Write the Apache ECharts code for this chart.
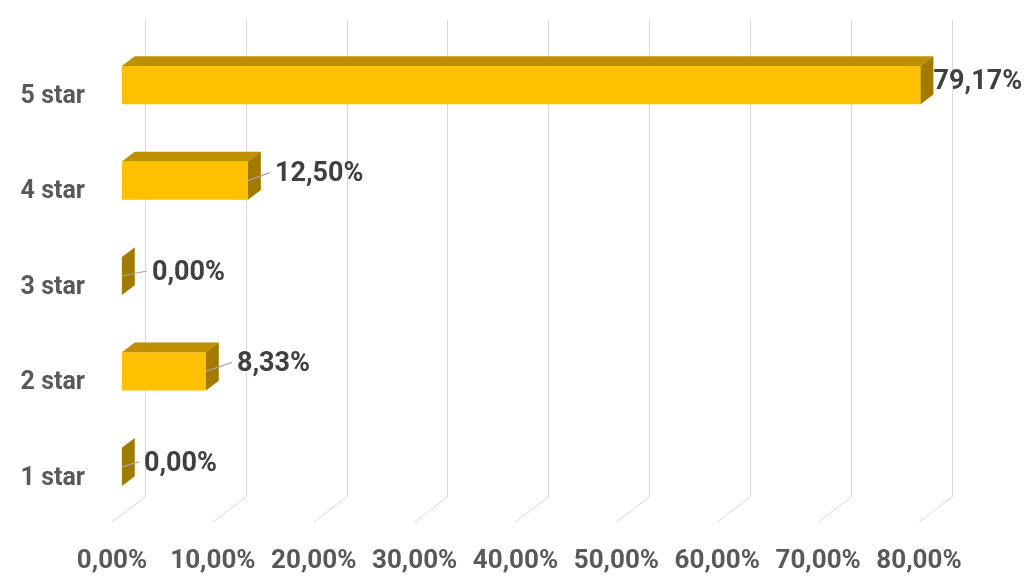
<!DOCTYPE html>
<html>
<head>
<meta charset="utf-8">
<script src="https://cdn.jsdelivr.net/npm/echarts@6/dist/echarts.min.js"></script>
<style>
html,body{margin:0;padding:0;background:#fff;}
#chart{width:1024px;height:588px;}
</style>
</head>
<body>
<div id="chart"></div>
<script>
// ---- data ----
var categories = ['1 star', '2 star', '3 star', '4 star', '5 star'];
var values = [0, 0.0833, 0, 0.125, 0.7917];
var xTicks = [0, 0.1, 0.2, 0.3, 0.4, 0.5, 0.6, 0.7, 0.8];
var xTickLabels = ['0,00%', '10,00%', '20,00%', '30,00%', '40,00%', '50,00%', '60,00%', '70,00%', '80,00%'];

// ---- layout / style (not data) ----
var DEPTH_X = 33, DEPTH_Y = 25;          // 3D depth of the plot box
var BAR_D0 = 0.30, BAR_D1 = 0.69;        // bar depth span (fraction)
var BAR_FRAC = 0.4;                      // bar thickness as fraction of band
var labelDx = [22, 31, 30, 27, 13];      // label nudges from bar front-right
var labelDy = [-3, -7, -3, -6, -3];
var FONT = 'Roboto, "Liberation Sans", sans-serif';

function pct(v) { return (v * 100).toFixed(2).replace('.', ',') + '%'; }

var chart = echarts.init(document.getElementById('chart'), null, {renderer: 'canvas'});

var option = {
  backgroundColor: '#ffffff',
  animation: false,
  grid: [
    {left: 145, right: 72, top: 20, bottom: 91},   // back wall
    {left: 112, right: 105, top: 45, bottom: 66}   // front plane
  ],
  xAxis: [
    {
      gridIndex: 0, type: 'value', min: 0, max: 0.8, interval: 0.1,
      axisLine: {show: false}, axisTick: {show: false}, axisLabel: {show: false},
      splitLine: {show: true, lineStyle: {color: '#D9D9D9', width: 1}}
    },
    {
      gridIndex: 1, type: 'value', min: 0, max: 0.8, interval: 0.1,
      axisLine: {show: false}, axisTick: {show: false},
      splitLine: {show: false},
      axisLabel: {
        show: true, margin: 26, color: '#595959', fontSize: 26, fontWeight: 'bold', fontFamily: FONT,
        formatter: function (v, i) { var k = xTicks.indexOf(Math.round(v * 10) / 10); return k >= 0 ? xTickLabels[k] : ''; }
      }
    }
  ],
  yAxis: [
    {
      gridIndex: 0, type: 'category', data: categories,
      axisLine: {show: false}, axisTick: {show: false}, axisLabel: {show: false}, splitLine: {show: false}
    },
    {
      gridIndex: 1, type: 'category', data: categories,
      axisLine: {show: false}, axisTick: {show: false}, splitLine: {show: false},
      axisLabel: {
        show: true, margin: 27,
        formatter: function (v) { return '{c|' + v + '}'; },
        rich: {c: {padding: [8, 0, 0, 0], color: '#595959', fontSize: 25, fontWeight: 'bold', fontFamily: FONT}}
      }
    }
  ],
  series: [
    {
      // floor lines
      type: 'custom', xAxisIndex: 0, yAxisIndex: 0, silent: true,
      data: xTicks.map(function (t) { return [t]; }),
      encode: {x: 0},
      renderItem: function (params, api) {
        var cs = params.coordSys;
        var x = api.coord([api.value(0), 0])[0];
        var yb = cs.y + cs.height;
        return {
          type: 'line',
          shape: {x1: x, y1: yb, x2: x - DEPTH_X, y2: yb + DEPTH_Y},
          style: {stroke: '#D9D9D9', lineWidth: 1}
        };
      }
    },
    {
      // 3D bars + labels
      type: 'custom', xAxisIndex: 1, yAxisIndex: 1, silent: true,
      data: values.map(function (v, i) { return [v, i]; }),
      encode: {x: 0, y: 1},
      renderItem: function (params, api) {
        var v = api.value(0), ci = api.value(1);
        var p0 = api.coord([0, ci]);
        var p1 = api.coord([v, ci]);
        var band = api.size([0, 1])[1];
        var h = band * BAR_FRAC;
        var fx = BAR_D0 * DEPTH_X, fy = -BAR_D0 * DEPTH_Y;
        var bx = BAR_D1 * DEPTH_X, by = -BAR_D1 * DEPTH_Y;
        var xl = p0[0], xr = p1[0], yc = p0[1];
        var ft = yc - h / 2, fb = yc + h / 2;
        var FTL = [xl + fx, ft + fy], FTR = [xr + fx, ft + fy], FBR = [xr + fx, fb + fy], FBL = [xl + fx, fb + fy];
        var BTL = [xl + bx, ft + by], BTR = [xr + bx, ft + by], BBR = [xr + bx, fb + by];
        var children = [];
        if (xr - xl > 0.5) {
          children.push({type: 'polygon', shape: {points: [FTL, FTR, FBR, FBL]}, style: {fill: '#FFC000'}});
          children.push({type: 'polygon', shape: {points: [FTL, FTR, BTR, BTL]}, style: {fill: '#BF8F00'}});
        }
        children.push({type: 'polygon', shape: {points: [FTR, BTR, BBR, FBR]}, style: {fill: '#A27A00'}});
        var lx = FTR[0] + labelDx[ci];
        var ly = yc + fy + labelDy[ci];
        if (labelDx[ci] > 16) {
          children.push({type: 'line', shape: {x1: FTR[0], y1: yc + fy, x2: lx - 5, y2: ly - 2},
            style: {stroke: '#A6A6A6', lineWidth: 1.2}});
        }
        children.push({
          type: 'text',
          style: {
            text: pct(v), x: lx, y: ly,
            textAlign: 'left', textVerticalAlign: 'middle', align: 'left', verticalAlign: 'middle',
            fill: '#404040', font: 'bold 27px ' + FONT
          }
        });
        return {type: 'group', children: children};
      }
    }
  ]
};
chart.setOption(option);
</script>
</body>
</html>
